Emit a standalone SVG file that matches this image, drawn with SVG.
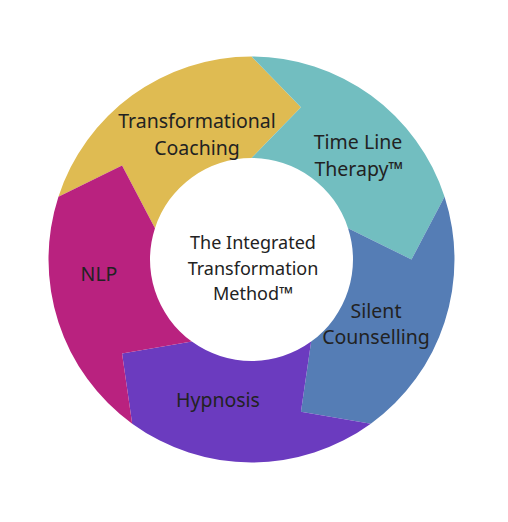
<svg xmlns="http://www.w3.org/2000/svg" width="508" height="522" viewBox="0 0 508 522">
<style>
.seg{stroke:none}
.lbl{font-family:"Noto Sans","Open Sans",sans-serif;font-size:19.5px;fill:#222;text-anchor:middle}
.ctr{font-family:"Noto Sans","Open Sans",sans-serif;font-size:18px;fill:#222;text-anchor:middle}
</style>
<rect width="508" height="522" fill="#ffffff"/>
<g id="coaching">
<path class="seg" fill="#DFBB52" d="M 58.44 196.77 A 203 203 0 0 1 251.5 56.5 L 300.94 107.33 L 251.5 158 A 101.5 101.5 0 0 0 154.97 228.13 L 122.06 165.45 Z"/>
<text class="lbl" x="197" y="128">Transformational</text>
<text class="lbl" x="197" y="155">Coaching</text>
</g>
<g id="timeline">
<path class="seg" fill="#72BEC0" d="M 251.5 56.5 A 203 203 0 0 1 444.56 196.77 L 411.5 259.5 L 348.03 228.13 A 101.5 101.5 0 0 0 251.5 158 L 300.94 107.33 Z"/>
<text class="lbl" x="358" y="149">Time Line</text>
<text class="lbl" x="359" y="176">Therapy™</text>
</g>
<g id="silent">
<path class="seg" fill="#557DB5" d="M 444.56 196.77 A 203 203 0 0 1 370.82 423.73 L 300.94 411.67 L 311.16 341.62 A 101.5 101.5 0 0 0 348.03 228.13 L 411.5 259.5 Z"/>
<text class="lbl" x="376" y="318">Silent</text>
<text class="lbl" x="376" y="344">Counselling</text>
</g>
<g id="hypnosis">
<path class="seg" fill="#6B3BBF" d="M 370.82 423.73 A 203 203 0 0 1 132.18 423.73 L 122.06 353.55 L 191.84 341.62 A 101.5 101.5 0 0 0 311.16 341.62 L 300.94 411.67 Z"/>
<text class="lbl" x="218" y="407">Hypnosis</text>
</g>
<g id="nlp">
<path class="seg" fill="#B9227F" d="M 132.18 423.73 A 203 203 0 0 1 58.44 196.77 L 122.06 165.45 L 154.97 228.13 A 101.5 101.5 0 0 0 191.84 341.62 L 122.06 353.55 Z"/>
<text class="lbl" x="99" y="281">NLP</text>
</g>
<g id="center">
<text class="ctr" x="253" y="249">The Integrated</text>
<text class="ctr" x="253" y="275">Transformation</text>
<text class="ctr" x="253" y="300">Method™</text>
</g>
<g id="connectors"/>
</svg>
